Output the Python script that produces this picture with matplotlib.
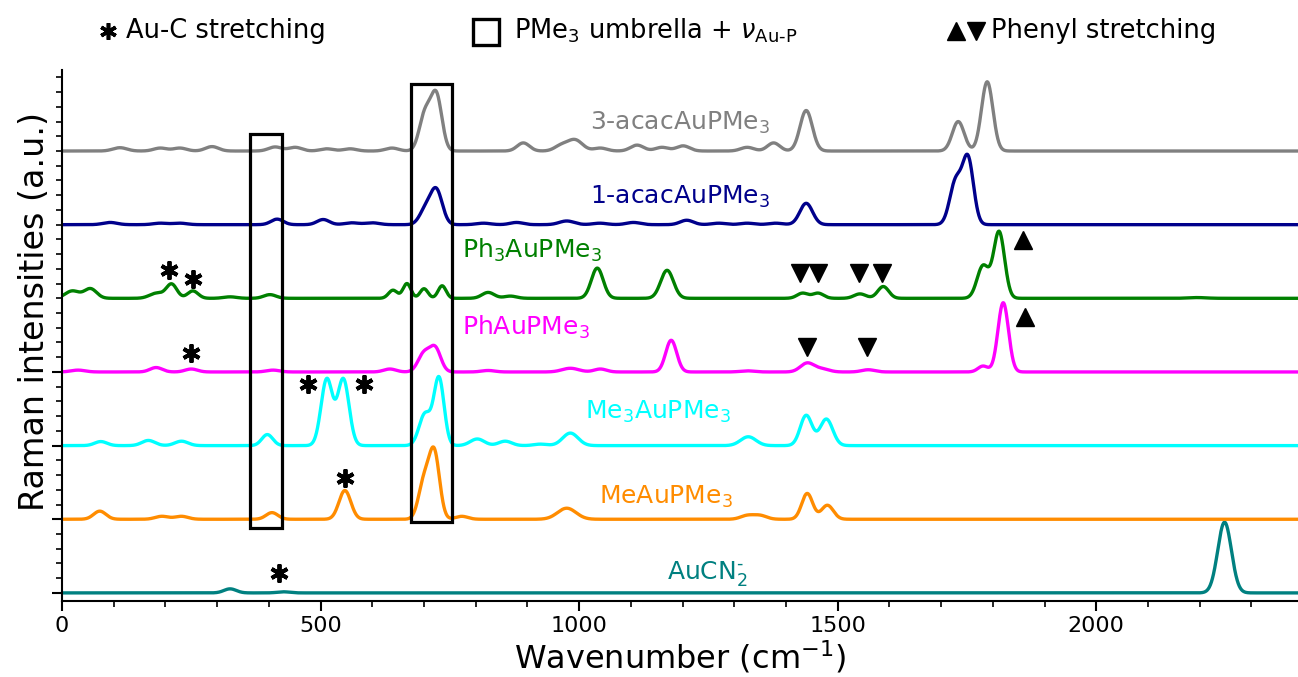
import numpy as np
import matplotlib
matplotlib.use("Agg")
import matplotlib.pyplot as plt
from matplotlib.ticker import MultipleLocator, FixedLocator, NullFormatter
from matplotlib.patches import Rectangle

# Peak tables (centre in cm-1, height in a.u., FWHM in cm-1) for each compound
acac3_pos = [112, 190, 228, 290, 412, 451, 512, 557, 638, 702, 724, 892, 965, 992,
             1041, 1112, 1160, 1201, 1325, 1376, 1439, 1733, 1789]
acac3_amp = [0.045, 0.04, 0.04, 0.06, 0.055, 0.05, 0.03, 0.03, 0.04, 0.50, 0.74, 0.11, 0.07, 0.15,
             0.04, 0.08, 0.05, 0.07, 0.05, 0.11, 0.55, 0.40, 0.94]
acac3_fwhm = [32, 30, 30, 30, 30, 30, 30, 30, 30, 26, 25, 28, 30, 34,
              30, 30, 30, 30, 30, 28, 28, 27, 26]

acac1_pos = [93, 190, 228, 416, 505, 560, 600, 703, 724, 815, 879, 976, 1040, 1105,
             1208, 1270, 1325, 1380, 1439, 1728, 1752]
acac1_amp = [0.03, 0.02, 0.02, 0.075, 0.07, 0.025, 0.025, 0.20, 0.46, 0.02, 0.03, 0.05, 0.02, 0.03,
             0.06, 0.02, 0.02, 0.02, 0.29, 0.58, 0.88]
acac1_fwhm = [32, 32, 32, 28, 28, 32, 32, 27, 27, 32, 30, 34, 32, 32,
              30, 32, 32, 32, 29, 27, 25]

ph3_pos = [20, 55, 183, 212, 253, 325, 402, 640, 667, 700, 735, 824, 867, 1035, 1170,
           1432, 1462, 1543, 1588, 1781, 1812, 2195]
ph3_amp = [0.10, 0.13, 0.07, 0.19, 0.10, 0.02, 0.05, 0.11, 0.20, 0.13, 0.17, 0.08, 0.03, 0.41, 0.38,
           0.07, 0.07, 0.06, 0.16, 0.44, 0.90, 0.01]
ph3_fwhm = [32, 28, 32, 24, 24, 30, 28, 20, 18, 18, 18, 28, 28, 27, 29,
            25, 25, 27, 25, 27, 25, 40]

ph1_pos = [31, 182, 250, 408, 634, 700, 722, 824, 983, 1041, 1178, 1325, 1441, 1470,
           1559, 1781, 1820]
ph1_amp = [0.025, 0.06, 0.04, 0.025, 0.04, 0.25, 0.31, 0.02, 0.05, 0.04, 0.43, 0.015, 0.12, 0.04,
           0.03, 0.08, 0.94]
ph1_fwhm = [32, 28, 28, 30, 28, 27, 25, 30, 38, 28, 25, 32, 31, 32,
            30, 23, 24]

me3_pos = [75, 167, 231, 397, 512, 544, 702, 729, 803, 857, 925, 983, 1327, 1439, 1478]
me3_amp = [0.055, 0.07, 0.06, 0.15, 0.90, 0.90, 0.43, 0.91, 0.09, 0.06, 0.02, 0.17, 0.12, 0.41, 0.36]
me3_fwhm = [28, 30, 30, 25, 26, 26, 27, 23, 32, 30, 30, 35, 35, 27, 29]

me1_pos = [73, 193, 231, 406, 547, 700, 720, 773, 976, 1325, 1350, 1441, 1480]
me1_amp = [0.11, 0.04, 0.04, 0.09, 0.39, 0.50, 0.88, 0.04, 0.15, 0.05, 0.05, 0.35, 0.19]
me1_fwhm = [28, 30, 30, 27, 27, 25, 24, 28, 42, 30, 30, 25, 27]

aucn_pos = [325, 428, 2248]
aucn_amp = [0.055, 0.015, 0.96]
aucn_fwhm = [28, 28, 31]

names = ["AuCN$_2^{\\text{-}}$", "MeAuPMe$_3$", "Me$_3$AuPMe$_3$", "PhAuPMe$_3$",
         "Ph$_3$AuPMe$_3$", "1-acacAuPMe$_3$", "3-acacAuPMe$_3$"]
colors = ["teal", "darkorange", "cyan", "magenta", "green", "darkblue", "gray"]
peaks = [(aucn_pos, aucn_amp, aucn_fwhm), (me1_pos, me1_amp, me1_fwhm),
         (me3_pos, me3_amp, me3_fwhm), (ph1_pos, ph1_amp, ph1_fwhm),
         (ph3_pos, ph3_amp, ph3_fwhm), (acac1_pos, acac1_amp, acac1_fwhm),
         (acac3_pos, acac3_amp, acac3_fwhm)]
label_x = [1247, 1168, 1153, 897, 909, 1195, 1195]
label_dy = [0.27, 0.30, 0.46, 0.60, 0.65, 0.38, 0.38]

# band markers: (wavenumber, height above own baseline, baseline index)
auc_x = [420, 547, 476, 584, 249, 207, 253]
auc_y = [0.27, 0.56, 0.83, 0.83, 0.26, 0.38, 0.26]
auc_base = [0, 1, 2, 2, 3, 4, 4]
down_x = [1441, 1557, 1427, 1462, 1542, 1586]
down_y = [0.34, 0.34, 0.35, 0.35, 0.35, 0.35]
down_base = [3, 3, 4, 4, 4, 4]
up_x = [1863, 1859]
up_y = [0.75, 0.79]
up_base = [3, 4]

wn = np.linspace(0, 2400, 4801)


def spectrum(pos, amp, fwhm):
    y = np.zeros_like(wn)
    for c, a, w in zip(pos, amp, fwhm):
        s = w / 2.3548
        y += a * np.exp(-0.5 * ((wn - c) / s) ** 2)
    return y


fig = plt.figure(figsize=(12.98, 6.77), dpi=100)
ax = fig.add_axes([62 / 1298, 1 - 601 / 677, 1 - 62 / 1298, (601 - 70) / 677])

for i, (p, name, col) in enumerate(zip(peaks, names, colors)):
    ax.plot(wn, i + spectrum(*p), color=col, lw=2.4, zorder=2)
    ax.text(label_x[i], i + label_dy[i], name, color=col, fontsize=18,
            ha="center", va="center")

ax.plot(auc_x, np.array(auc_y) + np.array(auc_base), ls="none", marker=(6, 2, 0),
        ms=13, mew=2.8, color="black")
ax.plot(down_x, np.array(down_y) + np.array(down_base), ls="none", marker="v",
        ms=12.5, color="black")
ax.plot(up_x, np.array(up_y) + np.array(up_base), ls="none", marker="^",
        ms=12.5, color="black")

# PMe3 umbrella / Au-P boxes
ax.add_patch(Rectangle((364, 0.88), 426 - 364, 6.23 - 0.88, fill=False,
                       lw=2.3, ec="black", zorder=3))
ax.add_patch(Rectangle((674, 0.96), 754 - 674, 6.91 - 0.96, fill=False,
                       lw=2.3, ec="black", zorder=3))

ax.set_xlim(0, 2390)
ax.set_ylim(-0.11, 7.1)
ax.spines["top"].set_visible(False)
ax.spines["right"].set_visible(False)
for s in ("left", "bottom"):
    ax.spines[s].set_linewidth(1.5)

ax.xaxis.set_major_locator(MultipleLocator(500))
ax.xaxis.set_minor_locator(MultipleLocator(100))
ax.yaxis.set_major_locator(FixedLocator([0, 1, 2, 3]))
ax.yaxis.set_minor_locator(MultipleLocator(0.2))
ax.yaxis.set_major_formatter(NullFormatter())
ax.tick_params(which="major", length=7, width=1.5, labelsize=16)
ax.tick_params(which="minor", length=4, width=1.2)
ax.set_xlabel("Wavenumber (cm$^{-1}$)", fontsize=23, labelpad=2)
ax.set_ylabel("Raman intensities (a.u.)", fontsize=24)
ax.yaxis.set_label_coords(-0.009, 0.545)

# key along the top of the figure
key = fig.add_axes([0, 0, 1, 1], zorder=5)
key.set_xlim(0, 1298)
key.set_ylim(677, 0)
key.axis("off")
key.plot([108], [31], marker=(6, 2, 0), ms=12, mew=2.6, color="black")
key.text(126, 31, "Au-C stretching", fontsize=18.5, va="center")
key.plot([486], [32], marker="s", ms=19, mew=2.4, mfc="none", mec="black")
key.text(514, 31, "PMe$_3$ umbrella + $\\nu_{\\text{Au-P}}$", fontsize=18.5, va="center")
key.plot([956], [31], marker="^", ms=12.5, color="black")
key.plot([976], [31], marker="v", ms=12.5, color="black")
key.text(991, 31, "Phenyl stretching", fontsize=18.5, va="center")

fig.savefig("out.png", dpi=100)
